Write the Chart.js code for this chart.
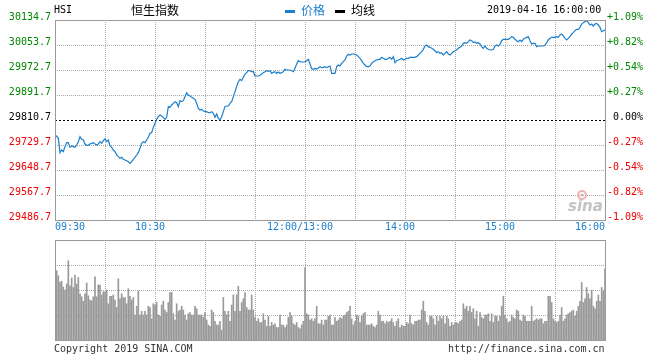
<!DOCTYPE html>
<html><head><meta charset="utf-8">
<script src="https://cdn.jsdelivr.net/npm/chart.js@4.4.1/dist/chart.umd.min.js"></script>
<style>
html,body{margin:0;padding:0;background:#fff;width:660px;height:360px;overflow:hidden;}
#wrap{position:relative;width:660px;height:360px;}
canvas{position:absolute;left:0;}
.t{position:absolute;white-space:pre;line-height:1;}
.mono{font-family:"DejaVu Sans Mono",monospace;font-size:10px;color:#000;}
.cjk{font-family:"Noto Sans CJK SC",sans-serif;font-size:12px;}
.ico{position:absolute;height:3px;width:10px;}
</style></head><body>
<div id="wrap">
<canvas id="main" width="660" height="232" style="top:0"></canvas>
<canvas id="vol" width="660" height="108" style="top:236px"></canvas>
<div class="t mono" style="left:54px;top:5px">HSI</div>
<div class="t cjk" style="left:131px;top:4px;color:#000">恒生指数</div>
<div class="ico" style="left:285px;top:10px;background:#1a7fcc"></div>
<div class="t cjk" style="left:301px;top:4px;color:#1a7fcc">价格</div>
<div class="ico" style="left:335px;top:10px;background:#000"></div>
<div class="t cjk" style="left:351px;top:4px;color:#000">均线</div>
<div class="t mono" style="left:487px;top:5px">2019-04-16 16:00:00</div>
<div class="t mono" style="left:54px;top:344px;color:#333">Copyright 2019 SINA.COM</div>
<div class="t mono" style="left:448px;top:344px;color:#333">http://finance.sina.com.cn</div>
</div>
<script>
const basePrice = 29810.7;
const yTicks = [30134.7, 30053.7, 29972.7, 29891.7, 29810.7, 29729.7, 29648.7, 29567.7, 29486.7];
const pctLabels = ['+1.09%','+0.82%','+0.54%','+0.27%',' 0.00%','-0.27%','-0.54%','-0.82%','-1.09%'];
const xTickMinutes = [0, 60, 150, 210, 270, 330];
const xTickLabels = ['09:30', '10:30', '12:00/13:00', '14:00', '15:00', '16:00'];
const gridMinutes = [30, 60, 90, 120, 150, 180, 210, 240, 270, 300];
const volGridLevels = [1, 2, 3];

// minute-by-minute index price (minute 0 = 09:30, 150 = 12:00/13:00, 330 = 16:00)
const prices = [
29756.7,29758.9,29751.3,29704.9,29713.5,29708.1,29724.3,29737.3,29737.3,29722.1,
29726.5,29724.3,29722.1,29729.7,29740.5,29756.7,29748.1,29745.9,29732.9,29728.6,
29728.6,29732.9,29735.1,29737.3,29732.9,29729.7,29732.9,29740.5,29735.1,29743.7,
29749.1,29740.5,29745.9,29726.5,29722.1,29713.5,29708.1,29697.3,29691.9,29686.5,
29689.7,29683.3,29681.1,29678.9,29675.7,29670.3,29675.7,29683.3,29689.7,29697.3,
29704.9,29718.9,29735.1,29740.5,29737.3,29745.9,29754.5,29767.5,29769.7,29786.9,
29799.9,29812.9,29821.5,29826.9,29823.7,29819.3,29812.9,29819.3,29853.9,29851.7,
29859.3,29864.7,29870.1,29866.9,29853.9,29873.3,29870.1,29873.3,29886.3,29899.3,
29891.7,29888.5,29884.1,29880.9,29877.7,29864.7,29848.5,29843.1,29845.3,29840.9,
29837.7,29837.7,29834.5,29834.5,29837.7,29832.3,29819.3,29830.1,29816.1,29810.7,
29821.5,29837.7,29853.9,29856.1,29856.1,29864.7,29870.1,29886.3,29902.5,29918.7,
29934.9,29942.5,29938.1,29948.9,29958.7,29964.1,29970.5,29970.5,29967.3,29967.3,
29953.3,29953.3,29953.3,29955.4,29959.7,29964.1,29967.3,29970.5,29968.4,29970.5,
29961.9,29965.1,29967.3,29961.9,29966.2,29961.9,29964.1,29967.3,29974.9,29972.7,
29972.7,29972.7,29970.5,29967.3,29978.1,29992.1,30002.9,29999.7,29998.6,29998.6,
29998.6,30002.9,30007.3,29992.1,29977.0,29974.9,29978.1,29975.9,29979.2,29983.5,
29980.3,29981.3,29983.5,29980.3,29983.5,29985.7,29961.9,29961.9,29961.9,29983.5,
29988.9,29985.7,29994.3,29999.7,30005.1,30018.1,30023.5,30021.3,30024.5,30024.5,
30023.5,30021.3,30015.9,30010.5,30002.9,29994.3,29988.9,29983.5,29983.5,29985.7,
29994.3,29999.7,30002.9,30005.1,30007.3,30007.3,30013.7,30010.5,30007.3,30007.3,
30010.5,30013.7,30007.3,30015.9,29996.5,30002.9,30005.1,30007.3,30010.5,30005.1,
30007.3,30010.5,30010.5,30013.7,30013.7,30013.7,30013.7,30015.9,30021.3,30026.7,
30032.1,30039.7,30050.5,30053.7,30048.3,30046.1,30042.9,30039.7,30035.3,30028.9,
30032.1,30026.7,30028.9,30021.3,30026.7,30032.1,30024.5,30021.3,30026.7,30032.1,
30035.3,30037.5,30042.9,30046.1,30050.5,30059.1,30061.3,30059.1,30064.5,30069.9,
30067.7,30061.3,30063.4,30059.1,30061.3,30056.9,30048.3,30042.9,30050.5,30042.9,
30039.7,30037.5,30037.5,30039.7,30050.5,30053.7,30050.5,30055.9,30067.7,30072.1,
30072.1,30072.1,30072.1,30075.3,30080.7,30078.5,30072.1,30067.7,30064.5,30069.9,
30064.5,30072.1,30075.3,30078.5,30080.7,30067.7,30056.9,30059.1,30059.1,30048.3,
30050.5,30050.5,30050.5,30050.5,30053.7,30061.3,30069.9,30075.3,30078.5,30078.5,
30078.5,30080.7,30078.5,30086.1,30089.3,30082.9,30075.3,30069.9,30075.3,30080.7,
30089.3,30093.7,30100.1,30104.5,30104.5,30110.9,30121.7,30126.1,30129.3,30132.5,
30126.1,30118.5,30121.7,30115.3,30121.7,30123.9,30118.5,30110.9,30096.9,30100.1,30102.3
];

// per-minute volume (relative units, minutes 1..330)
const volumes = [
2.77,2.57,2.31,2.35,2.12,2.0,2.25,3.17,2.17,2.48,2.1,2.6,2.24,2.5,1.85,1.73,1.55,1.85,2.28,1.77,1.6,1.57,1.73,2.53,1.73,2.2,2.2,1.8,1.93,1.93,
2.0,1.45,1.75,1.75,1.8,1.6,1.3,2.45,1.65,1.85,1.7,1.7,1.45,2.05,1.75,1.6,1.7,1.0,1.35,1.95,1.0,1.15,1.0,1.15,1.0,1.35,1.3,0.85,1.45,1.4,
1.5,1.0,0.95,1.4,1.55,1.2,1.1,1.5,1.9,1.9,1.05,0.8,1.45,1.15,1.2,1.35,1.2,1.0,0.8,1.05,1.1,1.0,1.0,1.35,1.25,1.0,1.0,1.0,0.9,1.1,
0.8,0.6,0.55,1.2,1.1,0.75,0.6,0.6,0.75,0.4,1.7,1.15,1.0,1.15,0.75,1.4,1.8,1.15,1.8,2.15,1.15,1.5,1.65,1.9,1.3,1.2,1.2,1.8,1.2,0.9,
0.75,0.85,0.7,0.7,1.05,0.8,0.55,0.95,0.55,0.7,0.6,0.65,0.5,0.5,1.0,0.6,0.6,0.5,0.6,0.9,1.1,0.95,0.65,0.6,0.7,0.5,0.45,0.6,0.75,2.9,
1.05,1.0,0.8,0.85,0.75,0.85,1.35,0.65,0.65,0.8,0.6,0.8,0.8,0.95,1.0,0.6,0.6,0.9,0.75,0.8,0.9,0.85,0.95,1.0,1.1,1.15,1.35,0.85,0.6,0.75,
1.0,0.95,0.7,0.95,1.05,1.1,0.6,0.6,0.6,0.65,0.55,0.5,0.6,1.15,1.0,0.75,0.75,0.65,0.75,0.7,0.75,0.85,0.7,0.55,0.75,0.85,0.5,0.6,0.55,0.55,
0.7,0.65,1.0,0.65,0.6,0.75,0.75,0.8,0.8,1.2,1.55,1.15,0.7,0.6,0.95,0.95,0.85,0.6,0.95,0.75,0.95,0.85,0.95,0.65,0.95,0.85,0.55,0.7,0.6,0.7,
0.7,0.65,0.75,0.8,1.45,1.25,1.35,1.15,1.35,1.1,1.25,0.85,1.15,0.55,1.1,0.9,0.85,1.0,1.0,1.05,0.75,1.05,0.7,0.95,0.95,0.75,0.95,1.35,1.75,1.0,
0.85,0.7,0.75,1.0,0.9,0.85,1.2,1.15,0.8,0.75,1.0,0.95,0.75,0.75,0.75,1.35,0.75,0.8,0.85,0.8,0.85,0.85,0.65,0.75,0.75,1.75,1.75,1.5,0.85,0.75,
0.7,0.75,1.0,1.3,0.75,0.85,1.0,1.05,1.1,1.15,1.2,0.95,1.15,1.35,1.55,2.3,1.5,1.65,2.1,1.85,1.65,2.0,1.35,1.25,1.55,1.8,1.55,2.1,1.95,2.85
];

const GREEN = '#008800', RED = '#ee0000', BLUE = '#1a7fcc';
const FONT = {family: '"DejaVu Sans Mono", monospace', size: 10};

function tickColor(v) {
  if (Math.abs(v - basePrice) < 0.01) return '#000';
  return v > basePrice ? GREEN : RED;
}
function hline(ctx, x1, x2, y) { ctx.beginPath(); ctx.moveTo(x1, y); ctx.lineTo(x2, y); ctx.stroke(); }
function vline(ctx, x, y1, y2) { ctx.beginPath(); ctx.moveTo(x, y1); ctx.lineTo(x, y2); ctx.stroke(); }

const framePlugin = {
  id: 'frame',
  beforeDatasetsDraw(chart, args, opts) {
    const {ctx, chartArea: a, scales} = chart;
    ctx.save();
    ctx.lineWidth = 1;
    ctx.strokeStyle = '#aaaaaa';
    ctx.setLineDash([1, 1]);
    for (const m of gridMinutes) {
      const px = Math.round(scales.x.getPixelForValue(m)) + 0.5;
      vline(ctx, px, a.top, a.bottom);
    }
    for (const v of opts.levels) {
      const py = Math.round(scales.y.getPixelForValue(v)) + 0.5;
      if (opts.base !== undefined && Math.abs(v - opts.base) < 0.01) {
        ctx.save(); ctx.strokeStyle = '#000'; ctx.setLineDash([2, 2]);
        hline(ctx, a.left, a.right, py); ctx.restore();
      } else {
        hline(ctx, a.left, a.right, py);
      }
    }
    ctx.restore();
  },
  afterDraw(chart, args, opts) {
    const {ctx, chartArea: a, scales} = chart;
    ctx.save();
    ctx.strokeStyle = '#9a9a9a';
    ctx.lineWidth = 1;
    ctx.setLineDash([]);
    ctx.strokeRect(Math.round(a.left) + 0.5, Math.round(a.top) + 0.5, Math.round(a.right - a.left), Math.round(a.bottom - a.top));
    if (opts.xLabels) {
      ctx.font = '10px "DejaVu Sans Mono", monospace';
      ctx.fillStyle = BLUE;
      ctx.textBaseline = 'middle';
      xTickMinutes.forEach((m, i) => {
        const px = scales.x.getPixelForValue(m);
        if (i === 0) { ctx.textAlign = 'left'; ctx.fillText(xTickLabels[i], px, 227.5); }
        else if (i === xTickMinutes.length - 1) { ctx.textAlign = 'right'; ctx.fillText(xTickLabels[i], px, 227.5); }
        else { ctx.textAlign = 'center'; ctx.fillText(xTickLabels[i], px - 5, 227.5); }
      });
      // sina watermark
      ctx.globalAlpha = 0.9;
      ctx.strokeStyle = '#f2a6a6';
      ctx.lineWidth = 2;
      ctx.beginPath(); ctx.arc(582, 195, 4, 0, Math.PI * 2); ctx.stroke();
      ctx.fillStyle = '#b8b8b8';
      ctx.beginPath(); ctx.arc(582, 195, 1.6, 0, Math.PI * 2); ctx.fill();
      ctx.font = 'italic bold 15px "DejaVu Sans", sans-serif';
      ctx.textAlign = 'left';
      ctx.textBaseline = 'alphabetic';
      ctx.fillStyle = '#bdbdbd';
      ctx.fillText('sina', 568, 211);
    }
    ctx.restore();
  }
};

new Chart(document.getElementById('main'), {
  type: 'line',
  data: {
    datasets: [{
      data: prices.map((p, i) => ({x: i, y: p})),
      borderColor: BLUE,
      borderWidth: 1.2,
      pointRadius: 0,
      tension: 0,
      fill: false
    }]
  },
  options: {
    responsive: false,
    devicePixelRatio: 1,
    animation: false,
    events: [],
    layout: {padding: {top: 20, bottom: 12, left: 0, right: 0}},
    plugins: {
      legend: {display: false},
      tooltip: {enabled: false},
      frame: {levels: yTicks, base: basePrice, xLabels: true}
    },
    scales: {
      x: {type: 'linear', min: 0, max: 330, display: false},
      y: {
        type: 'linear', position: 'left', min: 29486.7, max: 30134.7,
        afterFit(s) { s.width = 55; },
        afterBuildTicks(s) { s.ticks = yTicks.map(v => ({value: v})); },
        grid: {display: false, drawTicks: false},
        border: {display: false},
        ticks: {
          autoSkip: false, font: FONT, padding: 4, labelOffset: -3,
          callback: v => v.toFixed(1),
          color: c => tickColor(c.tick.value)
        }
      },
      y2: {
        type: 'linear', position: 'right', min: 29486.7, max: 30134.7,
        afterFit(s) { s.width = 55; },
        afterBuildTicks(s) { s.ticks = yTicks.map(v => ({value: v})); },
        grid: {display: false, drawTicks: false},
        border: {display: false},
        ticks: {
          autoSkip: false, font: FONT, padding: 2, labelOffset: -3,
          callback: v => pctLabels[yTicks.findIndex(t => Math.abs(t - v) < 0.01)],
          color: c => tickColor(c.tick.value)
        }
      }
    }
  },
  plugins: [framePlugin]
});

new Chart(document.getElementById('vol'), {
  type: 'bar',
  data: {
    datasets: [{
      data: volumes.map((v, i) => ({x: i + 1, y: v})),
      backgroundColor: '#999999',
      borderWidth: 0,
      barThickness: 1
    }]
  },
  options: {
    responsive: false,
    devicePixelRatio: 1,
    animation: false,
    events: [],
    layout: {padding: {top: 4, bottom: 4, left: 55, right: 55}},
    plugins: {
      legend: {display: false},
      tooltip: {enabled: false},
      frame: {levels: volGridLevels, xLabels: false}
    },
    scales: {
      x: {type: 'linear', min: 0, max: 330, offset: false, display: false},
      y: {type: 'linear', min: 0, max: 4, display: false}
    }
  },
  plugins: [framePlugin]
});
</script>
</body></html>
